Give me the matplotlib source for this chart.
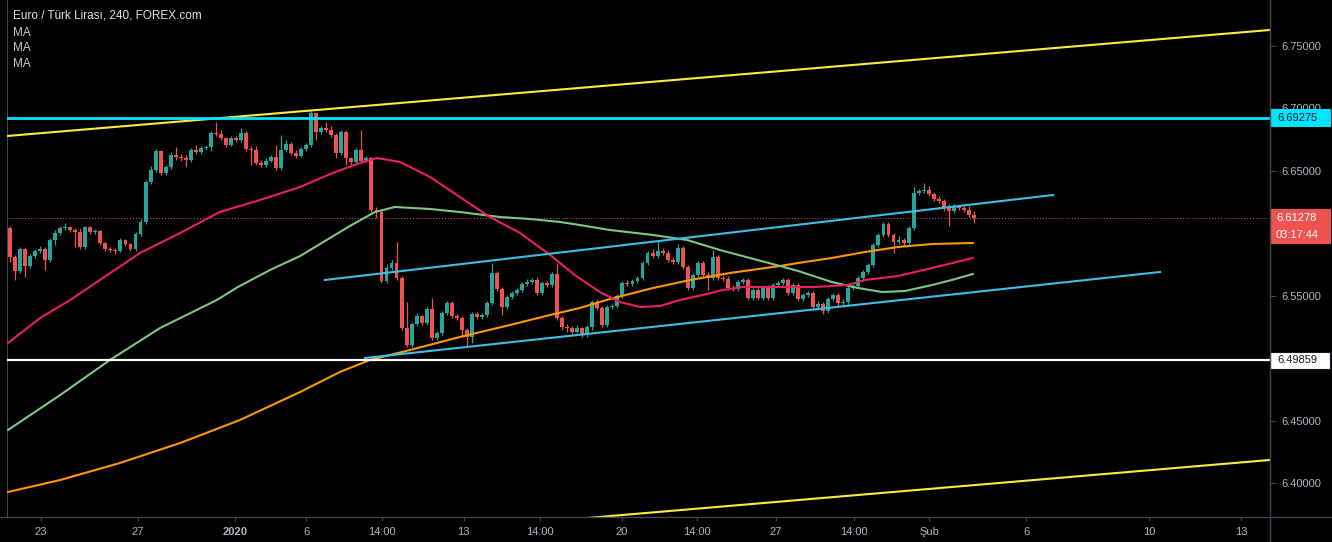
import matplotlib
matplotlib.use("Agg")
import matplotlib.pyplot as plt
from matplotlib.patches import Rectangle
from matplotlib.lines import Line2D
from matplotlib import transforms

# EUR/TRY 4h candles (prices)
first_open = 6.6044
closes = [
    6.5812, 6.5700, 6.5876, 6.5740, 6.5820, 6.5860, 6.5876, 6.5788, 6.5948, 6.6004,
    6.6044, 6.6052, 6.6028, 6.6012, 6.5892, 6.6052, 6.6012, 6.6020, 6.5924, 6.5876,
    6.5868, 6.5860, 6.5948, 6.5916, 6.5876, 6.5996, 6.6092, 6.6412, 6.6508, 6.6660,
    6.6484, 6.6532, 6.6628, 6.6612, 6.6604, 6.6588, 6.6668, 6.6652, 6.6684, 6.6692,
    6.6804, 6.6796, 6.6764, 6.6708, 6.6764, 6.6748, 6.6804, 6.6676, 6.6668, 6.6564,
    6.6548, 6.6580, 6.6612, 6.6524, 6.6668, 6.6716, 6.6644, 6.6620, 6.6676, 6.6708,
    6.6964, 6.6812, 6.6844, 6.6828, 6.6788, 6.6644, 6.6812, 6.6604, 6.6572, 6.6668,
    6.6580, 6.6604, 6.6188, 6.6172, 6.5620, 6.5724, 6.5764, 6.5644, 6.5244, 6.5108,
    6.5276, 6.5340, 6.5284, 6.5396, 6.5164, 6.5204, 6.5364, 6.5444, 6.5340, 6.5324,
    6.5228, 6.5172, 6.5356, 6.5332, 6.5348, 6.5444, 6.5684, 6.5556, 6.5412, 6.5492,
    6.5524, 6.5548, 6.5596, 6.5612, 6.5628, 6.5524, 6.5604, 6.5588, 6.5676, 6.5324,
    6.5252, 6.5244, 6.5212, 6.5244, 6.5188, 6.5252, 6.5452, 6.5404, 6.5268, 6.5412,
    6.5420, 6.5500, 6.5604, 6.5596, 6.5620, 6.5644, 6.5764, 6.5844, 6.5820, 6.5860,
    6.5844, 6.5788, 6.5772, 6.5884, 6.5732, 6.5564, 6.5668, 6.5764, 6.5668, 6.5644,
    6.5812, 6.5644, 6.5636, 6.5564, 6.5556, 6.5612, 6.5628, 6.5484, 6.5548, 6.5484,
    6.5572, 6.5484, 6.5588, 6.5604, 6.5628, 6.5524, 6.5588, 6.5476, 6.5508, 6.5524,
    6.5412, 6.5436, 6.5380, 6.5476, 6.5508, 6.5444, 6.5452, 6.5564, 6.5580, 6.5644,
    6.5692, 6.5748, 6.5908, 6.5988, 6.6076, 6.5988, 6.5932, 6.5948, 6.5924, 6.6044,
    6.6324, 6.6340, 6.6348, 6.6316, 6.6276, 6.6260, 6.6212, 6.6180, 6.6220, 6.6204,
    6.6188, 6.6148, 6.6128,
]
highs = [
    6.6060, 6.5828, 6.5892, 6.5884, 6.5836, 6.5876, 6.5900, 6.5892, 6.5964, 6.6028,
    6.6060, 6.6084, 6.6060, 6.6044, 6.6044, 6.6060, 6.6060, 6.6036, 6.6028, 6.5932,
    6.5892, 6.5884, 6.5964, 6.5956, 6.5924, 6.6012, 6.6116, 6.6428, 6.6540, 6.6676,
    6.6668, 6.6548, 6.6652, 6.6692, 6.6636, 6.6628, 6.6684, 6.6708, 6.6700, 6.6708,
    6.6820, 6.6892, 6.6828, 6.6772, 6.6780, 6.6780, 6.6844, 6.6820, 6.6700, 6.6700,
    6.6588, 6.6604, 6.6628, 6.6708, 6.6788, 6.6748, 6.6732, 6.6668, 6.6692, 6.6724,
    6.6980, 6.6964, 6.6860, 6.6892, 6.6860, 6.6804, 6.6828, 6.6828, 6.6612, 6.6684,
    6.6828, 6.6620, 6.6612, 6.6212, 6.6188, 6.5756, 6.5788, 6.5932, 6.5660, 6.5452,
    6.5292, 6.5364, 6.5348, 6.5412, 6.5484, 6.5220, 6.5380, 6.5460, 6.5460, 6.5356,
    6.5340, 6.5244, 6.5372, 6.5372, 6.5364, 6.5460, 6.5764, 6.5700, 6.5572, 6.5508,
    6.5540, 6.5564, 6.5612, 6.5636, 6.5644, 6.5652, 6.5620, 6.5620, 6.5692, 6.5764,
    6.5340, 6.5276, 6.5260, 6.5268, 6.5252, 6.5268, 6.5468, 6.5476, 6.5420, 6.5428,
    6.5436, 6.5516, 6.5620, 6.5628, 6.5636, 6.5660, 6.5780, 6.5860, 6.5876, 6.5948,
    6.5884, 6.5868, 6.5812, 6.5916, 6.5900, 6.5748, 6.5684, 6.5780, 6.5780, 6.5692,
    6.5868, 6.5828, 6.5668, 6.5660, 6.5588, 6.5628, 6.5644, 6.5644, 6.5564, 6.5564,
    6.5588, 6.5588, 6.5604, 6.5620, 6.5644, 6.5644, 6.5604, 6.5604, 6.5524, 6.5540,
    6.5540, 6.5460, 6.5452, 6.5492, 6.5524, 6.5524, 6.5476, 6.5580, 6.5596, 6.5660,
    6.5708, 6.5764, 6.5924, 6.6004, 6.6092, 6.6092, 6.6004, 6.5980, 6.5964, 6.6060,
    6.6372, 6.6356, 6.6404, 6.6380, 6.6332, 6.6300, 6.6276, 6.6236, 6.6236, 6.6228,
    6.6220, 6.6220, 6.6180,
]
lows = [
    6.5772, 6.5628, 6.5684, 6.5652, 6.5724, 6.5804, 6.5844, 6.5708, 6.5772, 6.5908,
    6.5988, 6.6028, 6.6012, 6.5892, 6.5876, 6.5876, 6.5996, 6.5996, 6.5908, 6.5860,
    6.5852, 6.5836, 6.5852, 6.5900, 6.5860, 6.5860, 6.5980, 6.6076, 6.6396, 6.6492,
    6.6468, 6.6468, 6.6516, 6.6588, 6.6580, 6.6532, 6.6572, 6.6636, 6.6636, 6.6668,
    6.6660, 6.6780, 6.6748, 6.6692, 6.6700, 6.6732, 6.6732, 6.6660, 6.6548, 6.6548,
    6.6532, 6.6532, 6.6572, 6.6508, 6.6508, 6.6652, 6.6628, 6.6604, 6.6612, 6.6660,
    6.6692, 6.6748, 6.6796, 6.6812, 6.6772, 6.6604, 6.6628, 6.6548, 6.6548, 6.6564,
    6.6564, 6.6572, 6.6172, 6.6124, 6.5604, 6.5604, 6.5708, 6.5628, 6.5228, 6.5092,
    6.5092, 6.5260, 6.5268, 6.5268, 6.5148, 6.5148, 6.5188, 6.5348, 6.5324, 6.5308,
    6.5172, 6.5092, 6.5124, 6.5316, 6.5316, 6.5332, 6.5428, 6.5540, 6.5348, 6.5396,
    6.5476, 6.5508, 6.5532, 6.5580, 6.5596, 6.5508, 6.5508, 6.5572, 6.5572, 6.5308,
    6.5228, 6.5212, 6.5196, 6.5204, 6.5172, 6.5172, 6.5228, 6.5388, 6.5252, 6.5252,
    6.5396, 6.5404, 6.5484, 6.5580, 6.5580, 6.5604, 6.5628, 6.5748, 6.5804, 6.5804,
    6.5828, 6.5772, 6.5756, 6.5756, 6.5716, 6.5548, 6.5548, 6.5652, 6.5652, 6.5548,
    6.5628, 6.5628, 6.5620, 6.5548, 6.5540, 6.5540, 6.5596, 6.5468, 6.5468, 6.5468,
    6.5468, 6.5468, 6.5468, 6.5572, 6.5588, 6.5508, 6.5508, 6.5460, 6.5460, 6.5492,
    6.5396, 6.5396, 6.5356, 6.5364, 6.5460, 6.5420, 6.5428, 6.5428, 6.5548, 6.5564,
    6.5628, 6.5676, 6.5732, 6.5892, 6.5972, 6.5972, 6.5844, 6.5916, 6.5900, 6.5908,
    6.6028, 6.6308, 6.6324, 6.6300, 6.6260, 6.6244, 6.6180, 6.6060, 6.6164, 6.6188,
    6.6172, 6.6132, 6.6084,
]

# moving averages, sampled along the bars (bar index, price)
ma_pink_idx = [-0.4, 6.0, 12.0, 17.9, 25.9, 33.9, 41.8, 49.8, 57.8, 64.3, 69.7, 73.1,
               77.7, 83.7, 89.6, 95.6, 101.6, 107.6, 112.5, 117.5, 121.5, 125.5, 129.5,
               133.5, 138.0, 142.0, 146.0, 153.4, 160.4, 166.9, 170.3, 176.9, 183.7, 191.8]
ma_pink_val = [6.5124, 6.5324, 6.5468, 6.5628, 6.5844, 6.6004, 6.6172, 6.6268, 6.6372,
               6.6484, 6.6564, 6.6604, 6.6572, 6.6452, 6.6292, 6.6132, 6.6004, 6.5828,
               6.5668, 6.5532, 6.5452, 6.5412, 6.5420, 6.5468, 6.5508, 6.5548, 6.5572,
               6.5572, 6.5572, 6.5588, 6.5628, 6.5660, 6.5724, 6.5804]

ma_green_idx = [-0.4, 10.0, 19.9, 29.9, 41.2, 45.4, 51.8, 57.8, 67.7, 72.7, 76.7, 83.7,
                89.6, 97.6, 103.6, 109.6, 113.5, 119.5, 128.1, 134.9, 141.4, 147.4,
                153.4, 157.0, 163.7, 168.9, 173.7, 178.3, 183.7, 187.6, 191.8]
ma_green_val = [6.4428, 6.4708, 6.4988, 6.5244, 6.5468, 6.5572, 6.5708, 6.5820, 6.6060,
                6.6172, 6.6212, 6.6196, 6.6172, 6.6132, 6.6116, 6.6092, 6.6068, 6.6028,
                6.5988, 6.5948, 6.5868, 6.5804, 6.5740, 6.5700, 6.5612, 6.5564, 6.5532,
                6.5540, 6.5588, 6.5628, 6.5676]

ma_orange_idx = [-0.4, 10.0, 21.9, 33.9, 45.8, 57.8, 65.7, 71.7, 79.7, 89.6, 99.6, 107.6,
                 113.5, 119.5, 128.1, 135.5, 143.4, 153.4, 157.0, 163.7, 170.3, 176.9,
                 183.7, 191.8]
ma_orange_val = [6.3932, 6.4028, 6.4164, 6.4324, 6.4508, 6.4732, 6.4892, 6.4988, 6.5068,
                 6.5172, 6.5268, 6.5348, 6.5404, 6.5476, 6.5564, 6.5628, 6.5684, 6.5740,
                 6.5764, 6.5804, 6.5852, 6.5892, 6.5916, 6.5924]

# drawn trend lines: (bar index, price) end points
yellow_top = [(-0.6, 6.6780), (251.5, 6.7630)]
yellow_bottom = [(105.0, 6.3690), (251.5, 6.4190)]
channel_top = [(62.7, 6.5628), (207.8, 6.6308)]
channel_bottom = [(70.7, 6.5004), (229.1, 6.5692)]
resistance = 6.69275
support = 6.49859
last_price = 6.61278
countdown = "03:17:44"

tick_pos = [6.2, 25.5, 44.8, 59.0, 74.1, 90.4, 105.6, 121.9, 136.9, 152.6, 168.1,
            183.1, 202.4, 226.9, 245.2]
tick_labels = ["23", "27", "2020", "6", "14:00", "13", "14:00", "20", "14:00", "27",
               "14:00", "Şub", "6", "10", "13"]
price_ticks = [6.40, 6.45, 6.55, 6.65, 6.70, 6.75]

plt.rcParams['font.family'] = ['Liberation Sans Narrow', 'Liberation Sans', 'DejaVu Sans']

UP = '#26a69a'
DOWN = '#ef5350'
GRID = '#434651'
TXT = '#b2b5be'

fig = plt.figure(figsize=(13.32, 5.42), dpi=100, facecolor='black')
W, H = 1332, 542
ax = fig.add_axes([7 / W, (H - 517) / H, 1263 / W, 517 / H])
ax.set_facecolor('black')

# candles
opens = [first_open] + closes[:-1]
for i in range(len(closes)):
    o, c, h, l = opens[i], closes[i], highs[i], lows[i]
    col = UP if c >= o else DOWN
    ax.vlines(i, l, h, color=col, linewidth=0.9, zorder=2)
    body = max(abs(c - o), 0.0009)
    ax.bar(i, body, bottom=min(o, c), width=0.78, color=col, linewidth=0, zorder=2)

# moving averages
ax.plot(ma_orange_idx, ma_orange_val, color='#ff9800', linewidth=1.5, zorder=3)
ax.plot(ma_green_idx, ma_green_val, color='#81c784', linewidth=1.5, zorder=3)
ax.plot(ma_pink_idx, ma_pink_val, color='#e91e63', linewidth=1.5, zorder=3)

# drawings
for seg, col, lw in [(yellow_top, '#ffeb3b', 1.5), (yellow_bottom, '#ffeb3b', 1.5),
                     (channel_top, '#3cc0e6', 1.5), (channel_bottom, '#3cc0e6', 1.5)]:
    ax.plot([seg[0][0], seg[1][0]], [seg[0][1], seg[1][1]], color=col, linewidth=lw, zorder=4)
ax.axhline(resistance, color='#00e5ff', linewidth=2.0, zorder=4)
ax.axhline(support, color='white', linewidth=1.6, zorder=4)
ax.axhline(last_price, color=DOWN, linewidth=0.7, linestyle=(0, (1, 2)), zorder=1)

ax.set_xlim(-0.6, 251.0)
ax.set_ylim(6.3732, 6.7868)

# axes styling
for side in ['top', 'right', 'bottom']:
    ax.spines[side].set_visible(False)
ax.spines['left'].set_color(GRID)
ax.yaxis.tick_right()
ax.set_yticks(price_ticks)
ax.set_yticklabels([f"{v:.5f}" for v in price_ticks])
ax.tick_params(axis='y', colors=GRID, labelcolor=TXT, labelsize=8, length=4, pad=4)
ax.set_xticks(tick_pos)
ax.set_xticklabels(tick_labels)
ax.tick_params(axis='x', colors=GRID, labelcolor=TXT, labelsize=8, length=3, pad=4)
for lbl in ax.get_xticklabels():
    if lbl.get_text() == "2020":
        lbl.set_fontweight('bold')

# axis borders
fig.add_artist(Line2D([0, 1], [(H - 517) / H] * 2, transform=fig.transFigure, color=GRID, linewidth=1))
fig.add_artist(Line2D([1270 / W] * 2, [0, 1], transform=fig.transFigure, color=GRID, linewidth=1))

# price labels on the right scale
trans = transforms.blended_transform_factory(ax.transAxes, ax.transData)
bw = 60 / 1263
bh = 0.0136
tx = 1.0 + 27 / 1263
boxes = [
    (resistance, f"{resistance:.5f}", '#00e5ff', '#131722', None),
    (last_price, f"{last_price:.5f}", DOWN, 'white', None),
    (last_price - bh, countdown, DOWN, 'white', None),
    (support, f"{support:.5f}", 'white', '#131722', '#131722'),
]
for y, txt, bg, fg, ec in boxes:
    ax.add_patch(Rectangle((1.0, y - bh / 2), bw, bh, transform=trans, facecolor=bg,
                           edgecolor=ec if ec else bg, linewidth=0.8, clip_on=False, zorder=6))
    ax.text(tx, y, txt, transform=trans, color=fg, fontsize=8, ha='center', va='center',
            clip_on=False, zorder=7)

# legend text, top left
fig.text(13 / W, 1 - 15 / H, "Euro / Türk Lirası, 240, FOREX.com", color='#e0e3eb',
         fontsize=8.5, family=['Liberation Sans', 'DejaVu Sans'], va='center')
for yy in [33, 48, 64]:
    fig.text(13 / W, 1 - yy / H, "MA", color='#c8cad0', fontsize=8.5,
             family=['Liberation Sans', 'DejaVu Sans'], va='center')

fig.savefig("out.png", dpi=100, facecolor='black')
